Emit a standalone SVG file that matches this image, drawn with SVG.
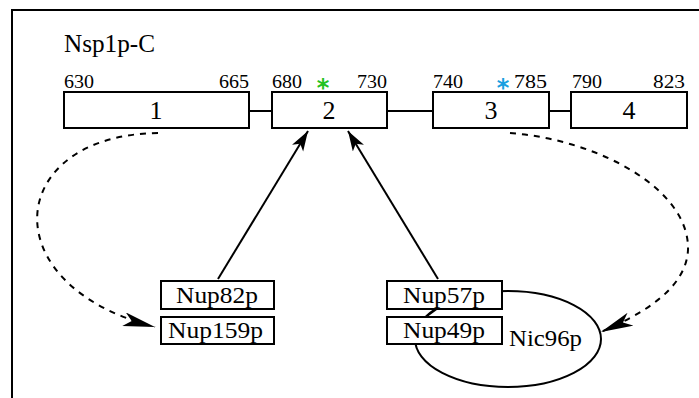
<svg xmlns="http://www.w3.org/2000/svg" width="699" height="398" viewBox="0 0 699 398">
<style>
.box{fill:#fff;stroke:#000;stroke-width:2}
.ln{fill:none;stroke:#000;stroke-width:2}
.dash{fill:none;stroke:#000;stroke-width:2;stroke-dasharray:6 6}
</style>
<defs>
<marker id="ah" markerUnits="userSpaceOnUse" markerWidth="24" markerHeight="14" refX="20" refY="6.5" orient="auto">
<path d="M0,0 L20,6.5 L0,13 L5,6.5 Z" fill="#000"/>
</marker>
<marker id="ahd" markerUnits="userSpaceOnUse" markerWidth="36" markerHeight="16" refX="32" refY="7" orient="auto">
<path d="M0,0 L32,7 L0,14 L8,7 Z" fill="#000"/>
</marker>
</defs>
<path d="M12,398 V10 H699" fill="none" stroke="#000" stroke-width="2"/>
<text x="64" y="52" font-family="Liberation Serif" font-size="25" textLength="91" lengthAdjust="spacingAndGlyphs">Nsp1p-C</text>
<g id="links">
<line class="ln" x1="249" y1="111" x2="272" y2="111"/>
<line class="ln" x1="387" y1="111" x2="433" y2="111"/>
<line class="ln" x1="549" y1="111" x2="571" y2="111"/>
<ellipse id="nic96p-ellipse" cx="508" cy="339" rx="93" ry="48" fill="none" stroke="#000" stroke-width="2"/>
</g>
<g id="seg1">
<rect class="box" x="64" y="92" width="185" height="36"/>
<text x="156" y="119" font-family="Liberation Serif" font-size="26" text-anchor="middle">1</text>
<text x="64" y="88" font-family="Liberation Serif" font-size="18" textLength="30" lengthAdjust="spacingAndGlyphs">630</text>
<text x="219" y="88" font-family="Liberation Serif" font-size="18" textLength="30" lengthAdjust="spacingAndGlyphs">665</text>
</g>
<g id="seg2">
<rect class="box" x="272" y="92" width="115" height="36"/>
<text x="329" y="119" font-family="Liberation Serif" font-size="26" text-anchor="middle">2</text>
<text x="272" y="88" font-family="Liberation Serif" font-size="18" textLength="30" lengthAdjust="spacingAndGlyphs">680</text>
<text x="357" y="88" font-family="Liberation Serif" font-size="18" textLength="30" lengthAdjust="spacingAndGlyphs">730</text>
<text x="323" y="96" font-family="DejaVu Sans" font-size="24" font-weight="bold" text-anchor="middle" fill="#22c222">*</text>
</g>
<g id="seg3">
<rect class="box" x="433" y="92" width="116" height="36"/>
<text x="491" y="119" font-family="Liberation Serif" font-size="26" text-anchor="middle">3</text>
<text x="433" y="88" font-family="Liberation Serif" font-size="18" textLength="30" lengthAdjust="spacingAndGlyphs">740</text>
<text x="514" y="88" font-family="Liberation Serif" font-size="18" textLength="33" lengthAdjust="spacingAndGlyphs">785</text>
<text x="503" y="96" font-family="DejaVu Sans" font-size="24" font-weight="bold" text-anchor="middle" fill="#1a9fe0">*</text>
</g>
<g id="seg4">
<rect class="box" x="571" y="92" width="116" height="36"/>
<text x="629" y="119" font-family="Liberation Serif" font-size="26" text-anchor="middle">4</text>
<text x="572" y="88" font-family="Liberation Serif" font-size="18" textLength="30" lengthAdjust="spacingAndGlyphs">790</text>
<text x="653" y="88" font-family="Liberation Serif" font-size="18" textLength="32" lengthAdjust="spacingAndGlyphs">823</text>
</g>
<g id="nup82p">
<rect class="box" x="161" y="281" width="113" height="28"/>
<text x="176" y="303" font-family="Liberation Serif" font-size="24" textLength="82" lengthAdjust="spacingAndGlyphs">Nup82p</text>
</g>
<g id="nup159p">
<rect class="box" x="161" y="317" width="113" height="27"/>
<text x="168" y="338" font-family="Liberation Serif" font-size="24" textLength="95" lengthAdjust="spacingAndGlyphs">Nup159p</text>
</g>
<g id="nup57p">
<rect class="box" x="387" y="281" width="115" height="28"/>
<text x="403" y="303" font-family="Liberation Serif" font-size="24" textLength="82" lengthAdjust="spacingAndGlyphs">Nup57p</text>
</g>
<g id="nup49p">
<rect class="box" x="387" y="317" width="115" height="27"/>
<text x="403" y="338" font-family="Liberation Serif" font-size="24" textLength="82" lengthAdjust="spacingAndGlyphs">Nup49p</text>
</g>
<g id="nic96p">
<line x1="427" y1="316" x2="438" y2="308" stroke="#000" stroke-width="2"/>
<text x="509" y="346" font-family="Liberation Serif" font-size="24" textLength="73" lengthAdjust="spacingAndGlyphs">Nic96p</text>
</g>
<g id="connectors">
<line class="ln" x1="218" y1="279" x2="308" y2="131" marker-end="url(#ah)"/>
<line class="ln" x1="438" y1="279" x2="348" y2="131" marker-end="url(#ah)"/>
<path class="dash" d="M158,133 C5,135 -10,285 155,327" marker-end="url(#ahd)"/>
<path class="dash" d="M510,133 C600,140 690,190 688,250 C686,290 640,315 601,332" marker-end="url(#ahd)"/>
</g>
</svg>
